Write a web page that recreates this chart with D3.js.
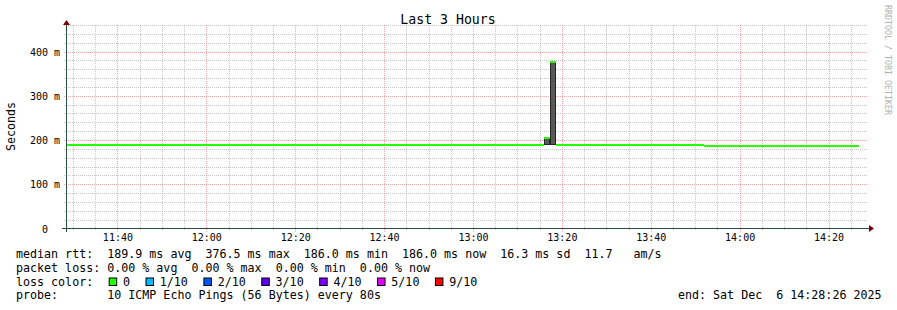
<!DOCTYPE html>
<html>
<head>
<meta charset="utf-8">
<script src="https://cdn.jsdelivr.net/npm/d3@7"></script>
<style>
  body { margin: 0; background: #fff; }
  svg text { font-family: "DejaVu Sans Mono", monospace; white-space: pre; }
</style>
</head>
<body>
<svg id="chart" width="897" height="310"></svg>
<script>
// median rtt, as steps (seconds)
const segStart = ["11:28:26", "13:16:00", "13:17:20", "13:18:40", "13:52:00"];
const segEnd   = ["13:16:00", "13:17:20", "13:18:40", "13:52:00", "14:26:50"];
const segMedian = [0.1884, 0.205, 0.3765, 0.1884, 0.186];
const segLoss = [0, 0, 0, 0, 0];

// smoke (min..max of the pings) where it is visible
const smokeStart = ["13:16:00", "13:17:20"];
const smokeEnd   = ["13:17:20", "13:18:40"];
const smokeLow  = [0.188, 0.188];
const smokeHigh = [0.207, 0.3775];

const yTicks = [0, 0.1, 0.2, 0.3, 0.4];
const yTickLabels = ["0  ", "100 m", "200 m", "300 m", "400 m"];

const lossLabels = ["0", "1/10", "2/10", "3/10", "4/10", "5/10", "9/10"];
const lossColors = ["#26ff00", "#00b8ff", "#0059ff", "#5e00ff", "#7e00ff", "#dd00ff", "#ff0000"];

const legendLines = [
  "median rtt:  189.9 ms avg  376.5 ms max  186.0 ms min  186.0 ms now  16.3 ms sd  11.7   am/s",
  "packet loss: 0.00 % avg  0.00 % max  0.00 % min  0.00 % now",
  "loss color:",
  "probe:       10 ICMP Echo Pings (56 Bytes) every 80s"
];
const endLabel = "end: Sat Dec  6 14:28:26 2025";

const day = "2025-12-06 ";
const parse = d3.timeParse("%Y-%m-%d %H:%M:%S");
const t = s => parse(day + s);

const svg = d3.select("#chart");
svg.append("rect").attr("width", 897).attr("height", 310).attr("fill", "#fff");

const x = d3.scaleTime()
  .domain([t("11:28:26"), t("14:28:26")])
  .range([66, 866]);
const y = d3.scaleLinear()
  .domain([0, 0.46])
  .range([228.5, 25]);

const crisp = v => Math.round(v) + 0.5;
const gridColor = "rgba(140,140,140,0.5)";
const mgridColor = "rgba(240,110,110,0.6)";

// grid
const minorY = d3.range(0.02, 0.461, 0.02).filter(v => Math.round(v * 100) % 10 !== 0);
const minorX = x.ticks(d3.timeMinute.every(5)).filter(d => d.getMinutes() % 20 !== 0);
const majorX = x.ticks(d3.timeMinute.every(20));

const grid = svg.append("g");
grid.selectAll(".hmin").data(minorY).join("line")
  .attr("x1", 64).attr("x2", 868)
  .attr("y1", d => crisp(y(d))).attr("y2", d => crisp(y(d)))
  .attr("stroke", gridColor).attr("stroke-dasharray", "1,1");
grid.selectAll(".vmin").data(minorX).join("line")
  .attr("x1", d => crisp(x(d))).attr("x2", d => crisp(x(d)))
  .attr("y1", 25).attr("y2", 231)
  .attr("stroke", gridColor).attr("stroke-dasharray", "1,1");
grid.selectAll(".hmaj").data(yTicks.slice(1)).join("line")
  .attr("x1", 64).attr("x2", 868)
  .attr("y1", d => crisp(y(d))).attr("y2", d => crisp(y(d)))
  .attr("stroke", mgridColor).attr("stroke-dasharray", "1,1");
grid.selectAll(".vmaj").data(majorX).join("line")
  .attr("x1", d => crisp(x(d))).attr("x2", d => crisp(x(d)))
  .attr("y1", 25).attr("y2", 232)
  .attr("stroke", mgridColor).attr("stroke-dasharray", "1,1");

// smoke
const smoke = svg.append("g");
smokeStart.forEach((s, i) => {
  const x0 = Math.round(x(t(s))), x1 = Math.round(x(t(smokeEnd[i])));
  const y0 = Math.round(y(smokeHigh[i])), y1 = Math.round(y(smokeLow[i]));
  smoke.append("rect")
    .attr("x", x0).attr("y", y0).attr("width", x1 - x0).attr("height", y1 - y0)
    .attr("fill", "#595959");
  smoke.append("rect")
    .attr("x", x0 + 0.5).attr("y", y0 + 0.5).attr("width", x1 - x0 - 1).attr("height", y1 - y0 - 1)
    .attr("fill", "none").attr("stroke", "#262626");
});

// median
svg.append("g").selectAll("rect").data(segStart).join("rect")
  .attr("x", (d, i) => x(t(d)))
  .attr("width", (d, i) => x(t(segEnd[i])) - x(t(d)))
  .attr("y", (d, i) => Math.round(y(segMedian[i])) - 1)
  .attr("height", 2)
  .attr("fill", (d, i) => lossColors[segLoss[i]]);

// axes lines
const axisColor = "#2c4d43";
svg.append("line").attr("x1", 62).attr("x2", 870).attr("y1", 228.5).attr("y2", 228.5)
  .attr("stroke", axisColor);
svg.append("line").attr("x1", 66.5).attr("x2", 66.5).attr("y1", 232).attr("y2", 24)
  .attr("stroke", axisColor);
svg.append("path").attr("d", "M869,225 L874,228.5 L869,232 Z").attr("fill", "#7f0000");
svg.append("path").attr("d", "M63,25 L66.5,20 L70,25 Z").attr("fill", "#7f0000");

// tick labels
const yAxis = svg.append("g").attr("transform", "translate(60,0)")
  .call(d3.axisLeft(y).tickValues(yTicks).tickSize(0).tickPadding(0)
    .tickFormat((d, i) => yTickLabels[i]));
yAxis.select(".domain").remove();
yAxis.selectAll("text").attr("font-size", 10).attr("font-family", "DejaVu Sans Mono")
  .attr("fill", "#000").attr("dy", "0.36em");

const xAxis = svg.append("g").attr("transform", "translate(0,228.5)")
  .call(d3.axisBottom(x).tickValues(majorX).tickSize(0).tickPadding(5)
    .tickFormat(d3.timeFormat("%H:%M")));
xAxis.select(".domain").remove();
xAxis.selectAll("text").attr("font-size", 10).attr("font-family", "DejaVu Sans Mono")
  .attr("fill", "#000");

// title, unit, watermark
svg.append("text").attr("x", 448).attr("y", 23.5).attr("text-anchor", "middle")
  .attr("font-size", 13.2).text("Last 3 Hours");
svg.append("text").attr("transform", "translate(15.3,126.5) rotate(-90)")
  .attr("text-anchor", "middle").attr("font-size", 11.6).text("Seconds");
svg.append("text").attr("transform", "translate(885,5) rotate(90)")
  .attr("font-size", 8.3).attr("fill", "#b0b0b0").text("RRDTOOL / TOBI OETIKER");

// legend
const baselines = [258.3, 271.9, 285.6, 299.3];
const legend = svg.append("g").attr("font-size", 11.67);
legendLines.forEach((s, i) => {
  legend.append("text").attr("x", 16).attr("y", baselines[i]).text(s);
});
legend.append("text").attr("x", 678).attr("y", baselines[3]).text(endLabel);

let bx = 108.7;
lossLabels.forEach((s, i) => {
  legend.append("rect").attr("x", bx + 0.5).attr("y", 278).attr("width", 7.5).attr("height", 7.5)
    .attr("fill", lossColors[i]).attr("stroke", "#000");
  legend.append("text").attr("x", bx + 14.3).attr("y", baselines[2]).text(s);
  bx += 14.3 + s.length * 7.02 + 15.5;
});
</script>
</body>
</html>
